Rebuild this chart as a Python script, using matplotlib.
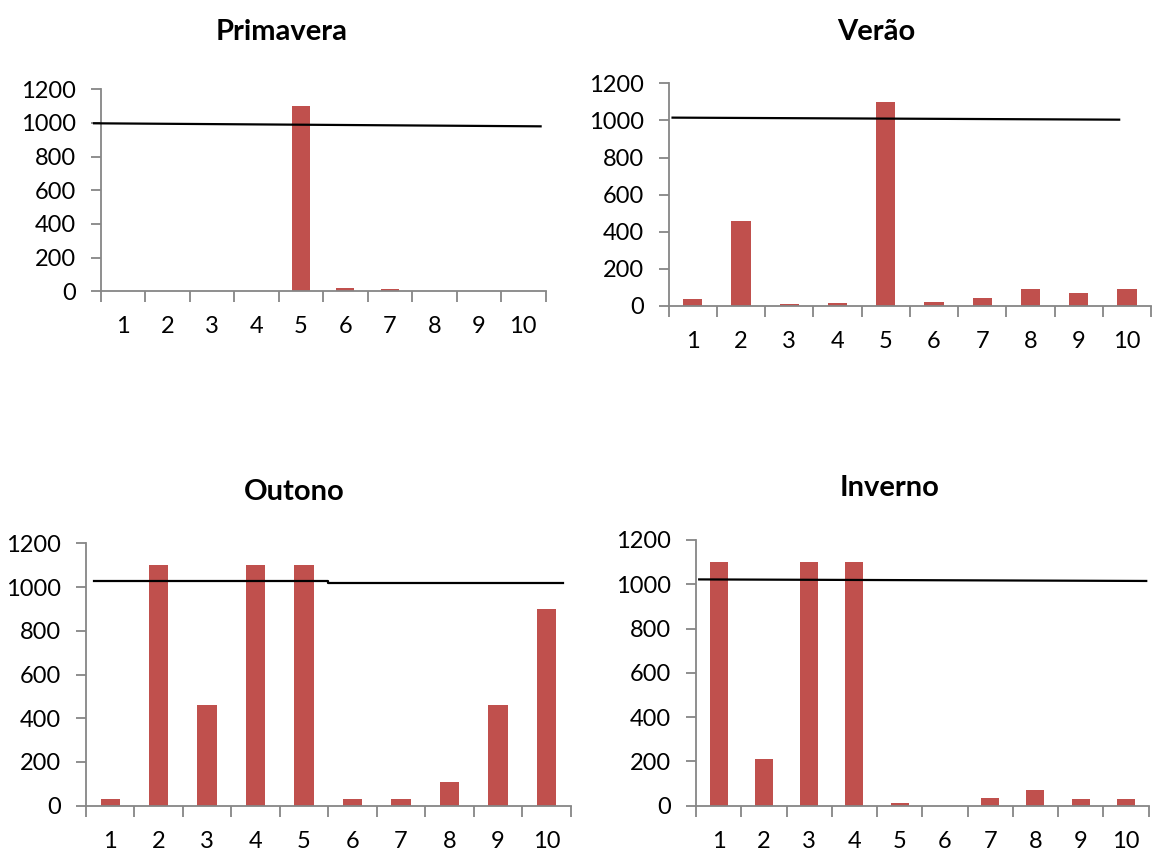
import matplotlib.pyplot as plt
import numpy as np

plt.rcParams['font.family'] = ['Lato', 'DejaVu Sans']

categories = ['1', '2', '3', '4', '5', '6', '7', '8', '9', '10']
y_ticks = [0, 200, 400, 600, 800, 1000, 1200]

primavera = [0, 0, 0, 0, 1100, 20, 13, 0, 0, 0]
verao = [36, 460, 9, 15, 1100, 20, 43, 92, 72, 90]
outono = [30, 1100, 460, 1100, 1100, 30, 30, 110, 460, 900]
inverno = [1100, 210, 1100, 1100, 12, 0, 35, 72, 29, 29]

# reference level lines (x in category units, y in data units)
primavera_line_x = [0.35, 10.39]
primavera_line_y = [998, 980]
verao_line_x = [0.58, 9.84]
verao_line_y = [1015, 1004]
outono_line_x = [0.67, 5.5, 5.5, 10.35]
outono_line_y = [1028, 1028, 1019, 1019]
inverno_line_x = [0.57, 10.45]
inverno_line_y = [1022, 1015]

W, H = 1153, 866
fig = plt.figure(figsize=(W / 100, H / 100), dpi=100)

BAR = '#C0504D'
AXIS = '#868686'


def px_axes(left, right, bottom, top):
    return fig.add_axes([left / W, 1 - bottom / H, (right - left) / W, (bottom - top) / H])


panels = [
    ('Primavera', primavera, primavera_line_x, primavera_line_y, (100.7, 545.5, 291.3, 89.3), (282, 32)),
    ('Verão', verao, verao_line_x, verao_line_y, (668.7, 1151, 306, 83.3), (876, 32)),
    ('Outono', outono, outono_line_x, outono_line_y, (86, 570.5, 805.7, 543.3), (294.5, 492)),
    ('Inverno', inverno, inverno_line_x, inverno_line_y, (696, 1148.5, 805.7, 540), (890, 488)),
]

x = np.arange(1, len(categories) + 1)
for title, vals, lx, ly, box, tpos in panels:
    ax = px_axes(*box)
    ax.bar(x, vals, width=0.4, color=BAR, zorder=2)
    ax.plot(lx, ly, color='black', lw=1.6, zorder=3, clip_on=False)
    ax.set_xlim(0.5, len(categories) + 0.5)
    ax.set_ylim(0, 1200)
    ax.set_yticks(y_ticks)
    ax.set_yticklabels([str(v) for v in y_ticks])
    ax.set_xticks(np.arange(0.5, len(categories) + 1, 1.0))
    ax.set_xticklabels([])
    ax.set_xticks(x, minor=True)
    ax.set_xticklabels(categories, minor=True)
    for s in ('top', 'right'):
        ax.spines[s].set_visible(False)
    for s in ('left', 'bottom'):
        ax.spines[s].set_color(AXIS)
        ax.spines[s].set_linewidth(1.3)
    ax.tick_params(axis='x', which='major', length=8, width=1.3, color=AXIS, direction='out')
    ax.tick_params(axis='x', which='minor', length=0, pad=18, labelsize=17)
    ax.tick_params(axis='y', length=7, width=1.3, color=AXIS, direction='out', pad=11, labelsize=17)
    fig.text(tpos[0] / W, 1 - tpos[1] / H, title, ha='center', va='center',
             fontsize=21, fontweight='bold')

fig.savefig('out.png', dpi=100)
